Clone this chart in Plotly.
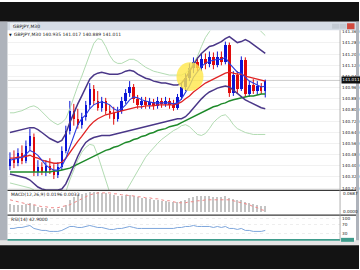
import plotly.graph_objects as go

W, H = 360, 270

# ---------------- data (GBPJPY M30) ----------------
idx = list(range(65))
opn = [140.404,140.454,140.425,140.496,140.440,140.546,140.610,140.355,140.397,140.355,
       140.404,140.369,140.333,140.397,140.510,140.652,140.794,140.737,140.694,140.751,
       140.836,140.949,140.864,140.815,140.864,140.794,140.779,140.737,140.794,140.864,
       140.921,140.964,140.879,140.836,140.864,140.836,140.857,140.829,140.864,140.843,
       140.864,140.836,140.815,140.893,140.964,141.034,141.105,141.148,141.105,141.169,
       141.133,141.183,141.126,141.183,141.148,141.268,140.921,141.049,140.949,141.162,
       140.914,140.978,140.935,140.971,140.935]
cls = [140.454,140.425,140.496,140.440,140.546,140.617,140.355,140.397,140.355,140.404,
       140.369,140.333,140.397,140.510,140.652,140.794,140.737,140.694,140.751,140.836,
       140.949,140.864,140.815,140.864,140.794,140.779,140.737,140.794,140.864,140.921,
       140.964,140.879,140.836,140.864,140.836,140.857,140.829,140.864,140.843,140.864,
       140.836,140.815,140.893,140.964,141.034,141.105,141.148,141.105,141.169,141.133,
       141.183,141.126,141.183,141.148,141.268,140.921,141.049,140.949,141.162,140.914,
       140.978,140.935,140.971,140.935,141.011]
hig = [140.496,140.510,140.525,140.546,140.581,140.666,140.631,140.440,140.425,140.440,
       140.454,140.411,140.425,140.539,140.687,140.864,140.843,140.808,140.779,140.864,
       140.992,140.978,140.935,140.893,140.886,140.836,140.822,140.822,140.893,140.949,
       141.006,140.985,140.907,140.893,140.893,140.886,140.879,140.893,140.886,140.893,
       140.886,140.872,140.914,140.992,141.063,141.133,141.176,141.176,141.204,141.204,
       141.218,141.211,141.218,141.218,141.289,141.282,141.077,141.077,141.183,141.176,
       141.006,141.020,141.006,140.992,141.017]
low = [140.369,140.383,140.397,140.411,140.418,140.510,140.326,140.326,140.333,140.326,
       140.341,140.305,140.312,140.369,140.489,140.624,140.687,140.666,140.666,140.723,
       140.808,140.836,140.794,140.787,140.765,140.737,140.694,140.716,140.772,140.843,
       140.893,140.850,140.808,140.808,140.808,140.808,140.801,140.808,140.815,140.822,
       140.808,140.794,140.801,140.872,140.935,141.006,141.063,141.077,141.077,141.091,
       141.105,141.091,141.105,141.119,141.126,140.893,140.900,140.921,140.935,140.893,
       140.893,140.914,140.907,140.914,140.889]

bb_upper = [140.638,140.645,140.652,140.659,140.666,140.673,140.673,140.659,140.638,140.617,
            140.595,140.581,140.567,140.581,140.631,140.709,140.779,140.843,140.900,140.964,
            141.020,141.049,141.063,141.070,141.063,141.056,141.056,141.056,141.063,141.077,
            141.084,141.077,141.056,141.041,141.027,141.020,141.006,140.999,140.992,140.992,
            140.985,140.978,140.978,140.992,141.027,141.077,141.126,141.169,141.204,141.232,
            141.254,141.261,141.275,141.289,141.310,141.325,141.303,141.282,141.289,141.303,
            141.289,141.268,141.247,141.225,141.204]
bb_lower = [140.341,140.333,140.326,140.319,140.312,140.298,140.270,140.248,140.234,140.227,
            140.227,140.227,140.227,140.234,140.270,140.333,140.404,140.468,140.525,140.567,
            140.588,140.602,140.610,140.617,140.617,140.617,140.624,140.631,140.638,140.645,
            140.652,140.659,140.666,140.673,140.680,140.687,140.694,140.702,140.709,140.716,
            140.723,140.730,140.737,140.737,140.751,140.779,140.815,140.850,140.879,140.907,
            140.928,140.942,140.956,140.964,140.971,140.964,140.942,140.914,140.893,140.872,
            140.857,140.843,140.829,140.815,140.808]
ma_red = [140.454,140.454,140.461,140.461,140.468,140.475,140.461,140.454,140.440,140.433,
          140.425,140.418,140.418,140.425,140.454,140.496,140.539,140.574,140.610,140.652,
          140.687,140.716,140.737,140.751,140.765,140.772,140.779,140.787,140.794,140.801,
          140.808,140.815,140.822,140.822,140.829,140.829,140.829,140.836,140.836,140.836,
          140.836,140.836,140.843,140.857,140.879,140.900,140.928,140.949,140.971,140.992,
          141.006,141.020,141.034,141.049,141.063,141.070,141.063,141.056,141.056,141.041,
          141.034,141.027,141.020,141.013,141.006]
ma_blue = [140.440,140.447,140.454,140.461,140.482,140.510,140.496,140.475,140.440,140.404,
           140.383,140.369,140.369,140.397,140.454,140.539,140.624,140.694,140.737,140.765,
           140.808,140.836,140.850,140.857,140.850,140.836,140.808,140.794,140.808,140.836,
           140.872,140.893,140.886,140.872,140.864,140.857,140.850,140.850,140.850,140.850,
           140.850,140.843,140.850,140.879,140.921,140.971,141.034,141.077,141.112,141.133,
           141.148,141.155,141.162,141.162,141.176,141.133,141.105,141.070,141.063,141.034,
           141.006,140.992,140.978,140.964,140.971]
ma_green = [140.355,140.355,140.355,140.355,140.355,140.355,140.355,140.355,140.355,140.355,
            140.355,140.362,140.362,140.369,140.376,140.383,140.397,140.411,140.425,140.440,
            140.454,140.468,140.482,140.496,140.510,140.518,140.532,140.539,140.553,140.567,
            140.574,140.588,140.595,140.610,140.617,140.631,140.638,140.652,140.659,140.666,
            140.680,140.687,140.694,140.709,140.723,140.737,140.751,140.765,140.779,140.794,
            140.808,140.822,140.829,140.843,140.850,140.864,140.872,140.879,140.886,140.893,
            140.900,140.900,140.907,140.914,140.914]
outer_upper = [140.779,140.779,140.787,140.794,140.808,140.822,140.829,140.815,140.787,140.758,
               140.730,140.709,140.694,140.709,140.737,140.808,140.893,140.971,141.041,141.119,
               141.204,141.275,141.310,141.303,141.254,141.190,141.148,141.133,141.133,141.148,
               141.162,141.162,141.148,141.126,141.105,141.091,141.077,141.070,141.063,141.056,
               141.049,141.049,141.049,141.049,141.063,141.091,141.133,141.183,141.254,141.318,
               141.360,141.395,141.431,141.459,141.502,141.537,141.516,141.487,141.473,141.473,
               141.445,141.417,141.388,141.360,141.332]
outer_lower = [140.277,140.270,140.263,140.256,140.248,140.241,140.227,140.199,140.171,140.156,
               140.156,140.156,140.156,140.171,140.213,140.298,140.369,140.440,140.496,140.532,
               140.553,140.546,140.475,140.383,140.284,140.185,140.121,140.121,140.156,140.213,
               140.263,140.312,140.369,140.418,140.461,140.496,140.532,140.560,140.588,140.610,
               140.631,140.652,140.666,140.687,140.694,140.680,140.652,140.624,140.617,140.631,
               140.666,140.709,140.737,140.758,140.765,140.737,140.694,140.666,140.652,140.638,
               140.631,140.624,140.624,140.624,140.624]

macd_hist = [0.0262,0.0229,0.0229,0.0229,0.0262,0.0294,0.0229,0.0164,0.0131,0.0131,
             0.0098,0.0098,0.0098,0.0131,0.0229,0.0392,0.0491,0.0556,0.0589,0.0621,
             0.0654,0.0654,0.0654,0.0621,0.0621,0.0589,0.0556,0.0523,0.0523,0.0556,
             0.0556,0.0523,0.0491,0.0458,0.0458,0.0425,0.0392,0.0392,0.0360,0.0360,
             0.0327,0.0327,0.0327,0.0360,0.0392,0.0458,0.0491,0.0523,0.0523,0.0523,
             0.0523,0.0491,0.0491,0.0491,0.0523,0.0458,0.0425,0.0392,0.0392,0.0327,
             0.0294,0.0262,0.0229,0.0196,0.0196]
macd_signal = [0.0392,0.0360,0.0327,0.0294,0.0262,0.0229,0.0229,0.0196,0.0164,0.0164,
               0.0131,0.0131,0.0131,0.0164,0.0196,0.0229,0.0294,0.0360,0.0425,0.0491,
               0.0556,0.0589,0.0621,0.0621,0.0621,0.0621,0.0589,0.0589,0.0556,0.0556,
               0.0523,0.0523,0.0491,0.0491,0.0458,0.0458,0.0425,0.0425,0.0392,0.0360,
               0.0360,0.0327,0.0294,0.0294,0.0294,0.0327,0.0327,0.0360,0.0360,0.0392,
               0.0392,0.0392,0.0392,0.0392,0.0392,0.0392,0.0360,0.0327,0.0294,0.0262,
               0.0229,0.0164,0.0131,0.0065,0.0033]
rsi = [52.4,52.4,57.1,57.1,61.9,66.7,52.4,47.6,42.9,42.9,
       38.1,38.1,38.1,42.9,52.4,61.9,61.9,57.1,57.1,61.9,
       66.7,61.9,57.1,57.1,52.4,47.6,47.6,52.4,52.4,57.1,
       61.9,57.1,52.4,52.4,52.4,52.4,52.4,52.4,52.4,52.4,
       52.4,52.4,57.1,57.1,61.9,61.9,66.7,61.9,61.9,61.9,
       61.9,57.1,61.9,57.1,61.9,52.4,52.4,47.6,52.4,42.9,
       42.9,38.1,38.1,38.1,42.9]

price_ticks = [141.36,141.28,141.20,141.12,141.04,140.96,140.88,140.80,140.72,
               140.64,140.56,140.48,140.40,140.32,140.24]
rsi_ticks = [100, 70, 30]
symbol = "GBPJPY,M30"

# ---------------- helpers (pixel -> paper) ----------------
def px(x):
    return x / W

def py(y):
    return 1 - y / H

FONT = "DejaVu Sans"
XR = [-0.5, 82.75]
XDOM = [px(8), px(341)]
BULL, BEAR = "#0B16D6", "#E00B0B"

fig = go.Figure()

# candles: wicks + bodies
for up, col in ((True, BULL), (False, BEAR)):
    wx, wy = [], []
    bx, bb, bh = [], [], []
    for i in idx:
        if (cls[i] >= opn[i]) != up:
            continue
        wx += [i, i, None]
        wy += [low[i], hig[i], None]
        bx.append(i)
        bb.append(min(opn[i], cls[i]))
        bh.append(max(abs(cls[i] - opn[i]), 0.004))
    fig.add_trace(go.Scatter(x=wx, y=wy, mode="lines", line=dict(color=col, width=1),
                             xaxis="x", yaxis="y", showlegend=False, hoverinfo="skip"))
    fig.add_trace(go.Bar(x=bx, y=bh, base=bb, width=0.6, marker=dict(color=col, line=dict(width=0)),
                         xaxis="x", yaxis="y", showlegend=False, hoverinfo="skip"))

def line(y, color, width, ax="y", xa="x", dash=None):
    fig.add_trace(go.Scatter(x=idx, y=y, mode="lines", xaxis=xa, yaxis=ax,
                             line=dict(color=color, width=width, dash=dash),
                             showlegend=False, hoverinfo="skip"))

line(outer_upper, "#A9D7A9", 0.9)
line(outer_lower, "#A9D7A9", 0.9)
line(ma_green, "#1E8A2A", 1.5)
line(bb_upper, "#4A3788", 1.5)
line(bb_lower, "#4A3788", 1.5)
line(ma_red, "#E02424", 1.3)
line(ma_blue, "#2A3CE0", 1.1)

# MACD
fig.add_trace(go.Bar(x=idx, y=macd_hist, xaxis="x2", yaxis="y2", width=0.28,
                     marker=dict(color="#C4C4C4", line=dict(width=0)),
                     showlegend=False, hoverinfo="skip"))
line(macd_signal, "#F08A8A", 1, ax="y2", xa="x2", dash="dot")

# RSI
line(rsi, "#7EA6DC", 1, ax="y3", xa="x3")

common_x = dict(range=XR, domain=XDOM, showticklabels=False, showgrid=False,
                zeroline=False, ticks="", fixedrange=True)
fig.update_layout(
    width=W, height=H, margin=dict(l=0, r=0, t=0, b=0), autosize=False,
    paper_bgcolor="white", plot_bgcolor="white",
    font=dict(family=FONT, size=5, color="#222"),
    showlegend=False, bargap=0, barmode="overlay",
    xaxis=dict(common_x, anchor="y"),
    xaxis2=dict(common_x, anchor="y2"),
    xaxis3=dict(common_x, anchor="y3"),
    yaxis=dict(domain=[py(190), py(29)], range=[140.2273, 141.3671], side="right",
               tickvals=price_ticks, ticktext=[f"{v:.3f}" for v in price_ticks],
               tickfont=dict(size=4.2, color="#222"), ticks="", showgrid=True,
               gridcolor="#F1F1F1", zeroline=False, ticklabelstandoff=1),
    yaxis2=dict(domain=[py(215), py(191)], range=[-0.0098, 0.0687], side="right",
                showticklabels=False, showgrid=False, zeroline=False, ticks=""),
    yaxis3=dict(domain=[py(240), py(216)], range=[0, 114.3], side="right",
                tickvals=rsi_ticks, ticktext=[str(v) for v in rsi_ticks],
                tickfont=dict(size=4.2, color="#222"), ticks="", showgrid=True,
                gridcolor="#EEEEEE", griddash="dot", zeroline=False,
                ticklabelstandoff=1),
)

shapes = []
def rect(x0, y0, x1, y1, color, layer="above", opacity=1):
    shapes.append(dict(type="rect", xref="paper", yref="paper",
                       x0=px(x0), x1=px(x1), y0=py(y1), y1=py(y0),
                       fillcolor=color, line=dict(width=0), layer=layer,
                       opacity=opacity))

def hline(y, x0, x1, color, width):
    shapes.append(dict(type="line", xref="paper", yref="paper",
                       x0=px(x0), x1=px(x1), y0=py(y), y1=py(y),
                       line=dict(color=color, width=width), layer="above"))

# window chrome
rect(0, 0, 360, 20, "#131313")
rect(0, 20, 360, 28.5, "#D5DCE5")
rect(10, 21, 37, 28.5, "#E9EDF2")
rect(0, 20, 7.5, 246, "#AEB3BB")
rect(357, 20, 360, 246, "#AEB3BB")
rect(0, 241, 360, 246, "#E4E4E4")
rect(0, 246, 360, 270, "#131313")
rect(333, 22, 340, 27, "#C3CAD3")
rect(340.5, 22, 347.5, 27, "#C3CAD3")
rect(348, 21.5, 355.5, 27.5, "#D24A3E")

# current-price line
shapes.append(dict(type="line", xref="paper", yref="y", x0=XDOM[0], x1=XDOM[1],
                   y0=cls[-1], y1=cls[-1], line=dict(color="#B8B8B8", width=0.7),
                   layer="below"))

# separators
hline(190.5, 7.5, 357, "#3A3A3A", 1.4)
hline(215.5, 7.5, 357, "#3A3A3A", 1.4)
hline(240.5, 7.5, 341, "#3E9C8C", 1.6)
shapes.append(dict(type="line", xref="paper", yref="paper", x0=px(341), x1=px(341),
                   y0=py(241), y1=py(28.5), line=dict(color="#9A9A9A", width=0.8),
                   layer="above"))
rect(342, 238.5, 355, 242.5, "#3E9C8C")

# yellow highlight
shapes.append(dict(type="circle", xref="paper", yref="paper",
                   x0=px(177), x1=px(204), y0=py(90), y1=py(61),
                   fillcolor="#FFE74A", line=dict(width=0), opacity=0.8,
                   layer="above"))
fig.update_layout(shapes=shapes)

ann = []
def text(x, y, s, color="#222", size=5, xanchor="left", bg=None):
    ann.append(dict(xref="paper", yref="paper", x=px(x), y=py(y), text=s,
                    showarrow=False, xanchor=xanchor, yanchor="middle",
                    font=dict(family=FONT, size=size, color=color),
                    bgcolor=bg, borderpad=0))

text(12, 24.8, symbol, size=4.5)
text(8.5, 33, "▼", size=3.5, color="#111")
text(13, 33, f"{symbol} {opn[-1]:.3f} {hig[-1]:.3f} {low[-1]:.3f} {cls[-1]:.3f}", size=4.5)
text(10, 195, f"MACD(12,26,9) {macd_hist[-1]:.4f} {macd_signal[-1]:.4f}", size=4.5)
text(10, 219.5, f"RSI(14) {rsi[-1]:.4f}", size=4.5)
text(342.5, 193.5, "0.0687", size=4.2)
text(342.5, 212, "0.0000", size=4.2)
ann.append(dict(xref="paper", yref="y", x=px(341.5), y=cls[-1], text=f"{cls[-1]:.3f}",
                showarrow=False, xanchor="left", yanchor="middle",
                font=dict(family=FONT, size=4.2, color="white"), bgcolor="#111111",
                borderpad=0.3))
fig.update_layout(annotations=ann)

fig.write_html("out.html")
